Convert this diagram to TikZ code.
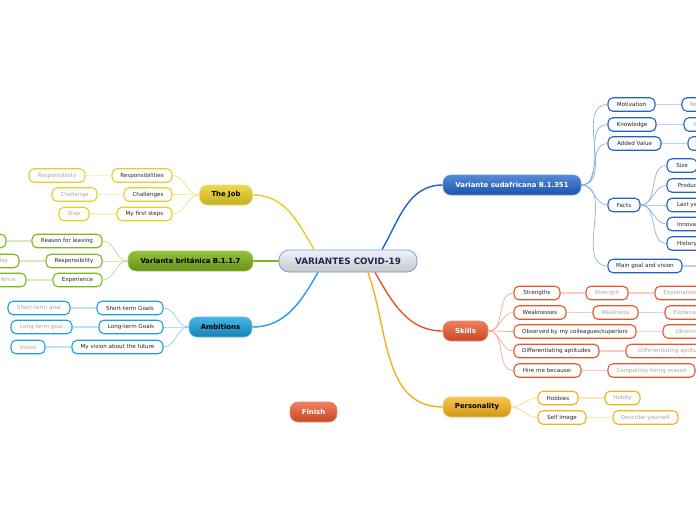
\documentclass[tikz,border=0pt]{standalone}
\usepackage{fontspec}
\setmainfont{DejaVu Sans}
\usepackage{xcolor}
\usetikzlibrary{positioning}

\definecolor{jobc}{RGB}{232,206,36}
\definecolor{britc}{RGB}{128,182,27}
\definecolor{ambc}{RGB}{27,161,226}
\definecolor{sudc}{RGB}{30,98,204}
\definecolor{skillc}{RGB}{232,85,42}
\definecolor{persc}{RGB}{245,178,26}
\definecolor{centb}{RGB}{110,160,215}
\definecolor{centt}{RGB}{26,42,80}

\begin{document}
\begin{tikzpicture}[
  x=1pt,y=-1pt,
  sub/.style={draw, line width=1.1pt, rounded corners=5pt, fill=white, minimum height=13.5pt, inner sep=0pt, font=\fontsize{5.6}{6.5}\selectfont, text=black!85},
  leaf/.style={sub, text=black!35},
  topic/.style={rounded corners=8pt, minimum height=20pt, inner sep=0pt, line width=0.6pt, font=\fontsize{6.9}{8}\selectfont\bfseries},
  mainln/.style={line width=1.4pt},
  subln/.style={line width=0.7pt},
  leafln/.style={line width=1.2pt}
]
\useasboundingbox (0,0) rectangle (696,520);
\fill[white] (0,0) rectangle (696,520);
\clip (0,0) rectangle (696,520);

\node[draw=centb, line width=0.8pt, rounded corners=10pt, top color=white!95!blue, bottom color=black!22, minimum width=138pt, minimum height=22pt, inner sep=0pt, font=\fontsize{8.8}{10}\selectfont\bfseries, text=centt] (covid) at (348,261) {VARIANTES COVID-19};

\node[topic, draw=jobc!70!white, top color=jobc!80!white, bottom color=jobc!85!black, minimum width=53pt] (job) at (226,195) {The Job};
\node[topic, draw=britc!70!white, top color=britc!85!white, bottom color=britc!80!black, minimum width=125pt] (brit) at (190.5,261) {Variante británica B.1.1.7};
\node[topic, draw=ambc!70!white, top color=ambc!80!white, bottom color=ambc!80!black, minimum width=63pt] (amb) at (220.5,327) {Ambitions};
\node[topic, draw=sudc!70!white, top color=sudc!75!white, bottom color=sudc!85!black, text=white, minimum width=138pt] (sud) at (512,185) {Variante sudafricana B.1.351};
\node[topic, draw=skillc!70!white, top color=skillc!75!white, bottom color=skillc!85!black, text=white, minimum width=45pt] (skills) at (465.5,331) {Skills};
\node[topic, draw=persc!70!white, top color=persc!75!white, bottom color=persc!85!black, minimum width=68pt] (pers) at (477,407) {Personality};
\node[topic, draw=skillc!70!white, top color=skillc!75!white, bottom color=skillc!85!black, text=white, minimum width=47pt] (finish) at (313.5,412) {Finish};

\node[sub, draw=jobc, minimum width=60pt] (jresp) at (142,175.5) {Responsibilities};
\node[sub, draw=jobc, minimum width=48pt] (jchal) at (148,194.5) {Challenges};
\node[sub, draw=jobc, minimum width=55pt] (jstep) at (144.5,214) {My first steps};
\node[leaf, draw=jobc, minimum width=56pt] (jresp1) at (57,175.5) {Responsibility};
\node[leaf, draw=jobc, minimum width=45pt] (jchal1) at (74.5,194.5) {Challenge};
\node[leaf, draw=jobc, minimum width=30pt] (jstep1) at (74,214) {Stap};

\node[sub, draw=britc, minimum width=70pt] (breas) at (67,241) {Reason for leaving};
\node[sub, draw=britc, minimum width=56pt] (bresp) at (74,261) {Responsibility};
\node[sub, draw=britc, minimum width=49pt] (bexp) at (77.5,280) {Experience};
\node[leaf, draw=britc, minimum width=40pt] (breas1) at (-14,241) {Reason};
\node[leaf, draw=britc, minimum width=52pt] (bresp1) at (-7,261) {Day to day};
\node[leaf, draw=britc, minimum width=52pt] (bexp1) at (0,280) {Experience};

\node[sub, draw=ambc, minimum width=66pt] (ashort) at (130,308) {Short-term Goals};
\node[sub, draw=ambc, minimum width=64pt] (along) at (131,327) {Long-term Goals};
\node[sub, draw=ambc, minimum width=91pt] (avis) at (117.5,347) {My vision about the future};
\node[leaf, draw=ambc, minimum width=62pt] (ashort1) at (39,308) {Short-term goal};
\node[leaf, draw=ambc, minimum width=61pt] (along1) at (41.5,327) {Long-term goal};
\node[leaf, draw=ambc, minimum width=34pt] (avis1) at (28,347) {Vision};

\node[sub, draw=sudc, minimum width=47pt] (smot) at (631.5,104.5) {Motivation};
\node[sub, draw=sudc, minimum width=48pt] (sknow) at (632,124.5) {Knowledge};
\node[sub, draw=sudc, minimum width=53pt] (sadd) at (634.5,143.5) {Added Value};
\node[sub, draw=sudc, minimum width=32pt] (sfacts) at (624,205) {Facts};
\node[sub, draw=sudc, minimum width=74pt] (sgoal) at (645,266) {Main goal and vision};
\node[leaf, draw=sudc, minimum width=36pt] (smot1) at (700,104.5) {Reason};
\node[leaf, draw=sudc, minimum width=30pt] (sknow1) at (699,124.5) {Skill};
\node[leaf, draw=sudc, minimum width=30pt] (sadd1) at (703,143.5) {Value};
\node[sub, draw=sudc, minimum width=30pt] (fsize) at (682,165.5) {Size};
\node[sub, draw=sudc, minimum width=46pt] (fprod) at (690,185.5) {Products};
\node[sub, draw=sudc, minimum width=46pt] (flast) at (690,205) {Last year};
\node[sub, draw=sudc, minimum width=50pt] (finno) at (692,224) {Innovation};
\node[sub, draw=sudc, minimum width=40pt] (fhist) at (687,243.5) {History};
\coordinate (sgoal1) at (700,266);

\node[sub, draw=skillc, minimum width=46pt] (kstr) at (537,293) {Strengths};
\node[sub, draw=skillc, minimum width=52pt] (kweak) at (540,312.5) {Weaknesses};
\node[sub, draw=skillc, minimum width=122pt] (kobs) at (575,331.5) {Observed by my colleagues/superiors};
\node[sub, draw=skillc, minimum width=85pt] (kdiff) at (556.5,351) {Differentiating aptitudes};
\node[sub, draw=skillc, minimum width=67pt] (khire) at (547.5,370.5) {Hire me because:};
\node[leaf, draw=skillc, minimum width=42pt] (kstr1) at (607,293) {Strength};
\node[leaf, draw=skillc, minimum width=45pt] (kweak1) at (615.5,312.5) {Weakness};
\node[leaf, draw=skillc, minimum width=52pt] (kobs1) at (689,331.5) {Observed};
\node[leaf, draw=skillc, minimum width=90pt] (kdiff1) at (671,351) {Differentiating aptitude};
\node[leaf, draw=skillc, minimum width=87pt] (khire1) at (651.5,370.5) {Compelling hiring reason};
\node[leaf, draw=skillc, minimum width=50pt] (kstr2) at (680,293) {Explanation};
\node[leaf, draw=skillc, minimum width=50pt] (kweak2) at (690,312.5) {Explanation};

\node[sub, draw=persc, minimum width=40pt] (phob) at (558,398) {Hobbies};
\node[sub, draw=persc, minimum width=48pt] (pself) at (562,417.5) {Self Image};
\node[leaf, draw=persc, minimum width=35pt] (phob1) at (622.5,398) {Hobby};
\node[leaf, draw=persc, minimum width=65pt] (pself1) at (645.5,417.5) {Describe yourself};

\draw[mainln, draw=jobc] ([xshift=-34pt]covid.north) to[out=120,in=0] (job.east);
\draw[mainln, draw=britc] (covid.west) -- (brit.east);
\draw[mainln, draw=ambc] ([xshift=-30pt]covid.south) to[out=240,in=0] (amb.east);
\draw[mainln, draw=sudc] ([xshift=34pt]covid.north) to[out=60,in=180] (sud.west);
\draw[mainln, draw=skillc] ([xshift=27pt]covid.south) to[out=300,in=180] (skills.west);
\draw[mainln, draw=persc] ([xshift=20pt]covid.south) to[out=290,in=180] (pers.west);

\foreach \n in {jresp,jchal,jstep}
  \draw[subln, draw=jobc!60] (job.west) to[out=180,in=0] (\n.east);
\foreach \n in {breas,bresp,bexp}
  \draw[subln, draw=britc!50] (brit.west) to[out=180,in=0] (\n.east);
\foreach \n in {ashort,along,avis}
  \draw[subln, draw=ambc!50] (amb.west) to[out=180,in=0] (\n.east);
\foreach \n in {smot,sknow,sadd,sfacts,sgoal}
  \draw[subln, draw=sudc!50] (sud.east) to[out=0,in=180] (\n.west);
\foreach \n in {fsize,fprod,flast,finno,fhist}
  \draw[subln, draw=sudc!50] (sfacts.east) to[out=0,in=180] (\n.west);
\foreach \n in {kstr,kweak,kobs,kdiff,khire}
  \draw[subln, draw=skillc!50] (skills.east) to[out=0,in=180] (\n.west);
\foreach \n in {phob,pself}
  \draw[subln, draw=persc!50] (pers.east) to[out=0,in=180] (\n.west);

\draw[leafln, draw=jobc!30] (jresp.west) -- (jresp1.east);
\draw[leafln, draw=jobc!30] (jchal.west) -- (jchal1.east);
\draw[leafln, draw=jobc!30] (jstep.west) -- (jstep1.east);
\draw[leafln, draw=britc!30] (breas.west) -- (breas1.east);
\draw[leafln, draw=britc!30] (bresp.west) -- (bresp1.east);
\draw[leafln, draw=britc!30] (bexp.west) -- (bexp1.east);
\draw[leafln, draw=ambc!30] (ashort.west) -- (ashort1.east);
\draw[leafln, draw=ambc!30] (along.west) -- (along1.east);
\draw[leafln, draw=ambc!30] (avis.west) -- (avis1.east);
\draw[leafln, draw=sudc!30] (smot.east) -- (smot1.west);
\draw[leafln, draw=sudc!30] (sknow.east) -- (sknow1.west);
\draw[leafln, draw=sudc!30] (sadd.east) -- (sadd1.west);
\draw[leafln, draw=sudc!30] (sgoal.east) -- (sgoal1);
\draw[leafln, draw=skillc!30] (kstr.east) -- (kstr1.west);
\draw[leafln, draw=skillc!30] (kstr1.east) -- (kstr2.west);
\draw[leafln, draw=skillc!30] (kweak.east) -- (kweak1.west);
\draw[leafln, draw=skillc!30] (kweak1.east) -- (kweak2.west);
\draw[leafln, draw=skillc!30] (kobs.east) -- (kobs1.west);
\draw[leafln, draw=skillc!30] (kdiff.east) -- (kdiff1.west);
\draw[leafln, draw=skillc!30] (khire.east) -- (khire1.west);
\draw[leafln, draw=persc!30] (phob.east) -- (phob1.west);
\draw[leafln, draw=persc!30] (pself.east) -- (pself1.west);
\end{tikzpicture}
\end{document}
